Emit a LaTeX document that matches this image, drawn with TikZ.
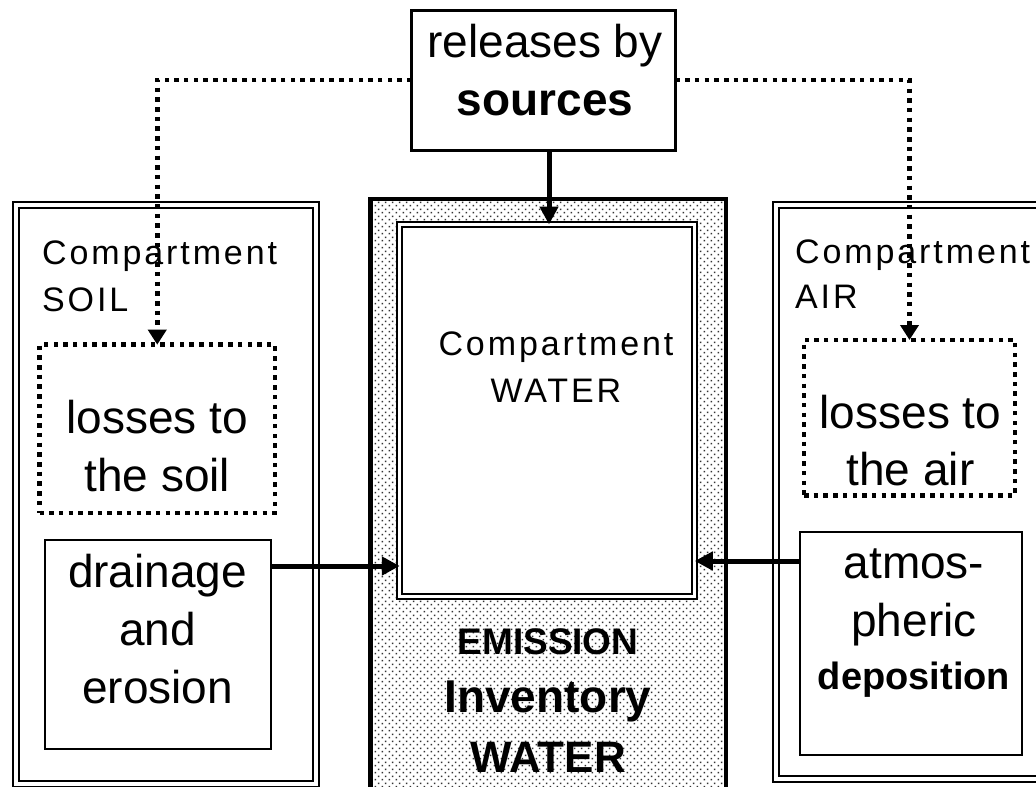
\documentclass[tikz,border=0pt]{standalone}
\usepackage{fontspec}
\setmainfont{Liberation Sans}
\newfontfamily\compfont[LetterSpace=8.5]{Liberation Sans}
\usetikzlibrary{arrows.meta,patterns.meta}

\tikzdeclarepattern{
  name=sanddots,
  type=uncolored,
  bounding box={(0pt,0pt) and (7.2pt,7.2pt)},
  tile size={(7.2pt,7.2pt)},
  code={
    \pgfpathrectangle{\pgfpoint{0.6pt}{0.6pt}}{\pgfpoint{1.8pt}{1.8pt}}
    \pgfpathrectangle{\pgfpoint{4.2pt}{4.2pt}}{\pgfpoint{1.8pt}{1.8pt}}
    \pgfusepath{fill}
  }
}

\begin{document}
\begin{tikzpicture}[x=1pt, y=-1pt,
  bigtext/.style={font=\fontsize{46}{58}\selectfont, align=center, inner sep=0pt, anchor=north},
  compname/.style={font=\compfont\fontsize{34}{47}\selectfont, inner sep=0pt},
  solidbox/.style={draw, line width=2pt, inner sep=0pt, outer sep=0pt},
  dotbox/.style={draw, line width=4.5pt, dash pattern=on 4.5pt off 5.2pt, inner sep=0pt, outer sep=0pt},
  compbox/.style={draw, double, double distance=4pt, line width=2pt, inner sep=0pt, outer sep=0pt},
  flow/.style={line width=5pt, -{Triangle[length=18pt,width=18pt]}},
  loss/.style={line width=4.5pt, dash pattern=on 4.5pt off 5.2pt, -{Triangle[length=15pt,width=18pt]}}]
\useasboundingbox (0,0) rectangle (1036,787);

% emission inventory column
\node[draw, line width=4.5pt, pattern=sanddots, pattern color=black!80, minimum width=355.5pt, minimum height=601pt, inner sep=0pt, outer sep=0pt] (inventory) at (548.25,499.5) {};
\node[draw, fill=white, double, double distance=2.6pt, line width=2.4pt, minimum width=295pt, minimum height=372pt, inner sep=0pt, outer sep=0pt] (waterbox) at (547.25,410.5) {};
\node[compname, align=center, anchor=north] (watername) at (556,322) {\strut Compartment\\WATER};
\node[bigtext, font=\bfseries\fontsize{45}{58}\selectfont] (invtext) at (548,613.4) {\strut{\fontsize{37}{58}\selectfont EMISSION}\\{\fontsize{46}{58}\selectfont Inventory}\\[2pt]{\fontsize{44}{58}\selectfont WATER}};

% side compartments
\node[compbox, minimum width=300.5pt, minimum height=579pt] (soil) at (165.75,494.5) {};
\node[compbox, minimum width=284pt, minimum height=574pt] (air) at (918,492) {};
\node[compname, align=left, anchor=north west] (soilname) at (42,231) {\strut Compartment\\SOIL};
\node[compname, align=left, anchor=north west] (airname) at (795,230) {\strut Compartment\\[-2pt]AIR};

% sources
\node[draw, line width=3pt, minimum width=264pt, minimum height=140pt, inner sep=0pt, outer sep=0pt] (src) at (543.5,80) {};
\node[bigtext] (srctext) at (545,16.4) {\strut releases by\\\textbf{sources}};

% losses
\node[dotbox, minimum width=235.5pt, minimum height=168.3pt] (soilloss) at (157.25,428.85) {};
\node[bigtext] (soillosstext) at (157.25,392.4) {\strut losses to\\the soil};
\node[dotbox, minimum width=211pt, minimum height=155.3pt] (airloss) at (909.5,417.65) {};
\node[bigtext] (airlosstext) at (910.5,387.4) {\strut losses to\\[-1pt]the air};

% inputs to water
\node[solidbox, minimum width=225.8pt, minimum height=209.8pt] (drain) at (157.6,644.4) {};
\node[bigtext] (draintext) at (157.6,546.4) {\strut drainage\\and\\erosion};
\node[solidbox, minimum width=222.5pt, minimum height=223.3pt] (atmos) at (910.75,643.35) {};
\node[bigtext] (atmostext) at (914,537.4) {\strut atmos-\\pheric\\[-5pt]{\bfseries\fontsize{38}{58}\selectfont deposition}};

% connectors
\draw[flow] (src.south -| 549,0) -- (waterbox.north -| 549,0);
\draw[flow] (drain.east |- 0,566) -- (waterbox.west |- 0,566);
\draw[flow] (atmos.west |- 0,561) -- (waterbox.east |- 0,561);
\draw[loss] (src.west) -| (soilloss.north);
\draw[loss] (src.east) -| (airloss.north);
\end{tikzpicture}
\end{document}
